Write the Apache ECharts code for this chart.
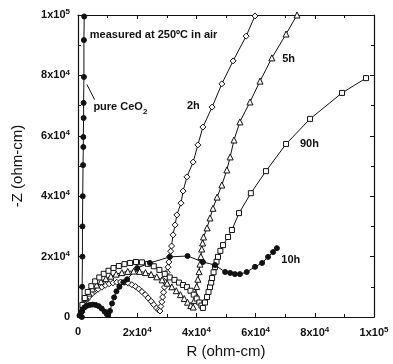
<!DOCTYPE html>
<html>
<head>
<meta charset="utf-8">
<script src="https://cdn.jsdelivr.net/npm/echarts@6/dist/echarts.min.js"></script>
<style>
  html, body { margin: 0; padding: 0; background: #fff; }
  #chart { width: 393px; height: 364px; }
</style>
</head>
<body>
<div id="chart"></div>
<script>
// R and -Z in units of 1e3 ohm-cm
const pureCeO2 = [
  [1.3, 0], [1.4, 10], [1.5, 20], [1.5, 30], [1.6, 40], [1.7, 50.3], [1.8, 56.3],
  [1.8, 59.6], [1.9, 65.9], [1.9, 70.9], [2.0, 79.5], [2.0, 91.7], [2.1, 99.5],
];
const h2 = [
  [1.2, 1.5], [1.6, 3], [2.2, 4.5], [3, 5.8], [3.8, 6.8], [4.7, 7.7], [5.7, 8.5],
  [6.8, 9.2], [8, 9.9], [9.2, 10.5], [10.5, 11], [11.8, 11.3], [13.1, 11.5],
  [14.4, 11.6], [15.7, 11.5], [17, 11.2], [18.2, 10.7], [19.4, 10.1], [20.5, 9.3],
  [21.6, 8.4], [22.7, 7.4], [23.7, 6.3], [24.7, 5.2], [25.6, 4.1], [26.5, 3],
  [27.2, 2.3], [27.7, 2], [28, 3.5], [28.3, 5], [28.6, 6.6], [28.9, 8.2],
  [29.2, 9.9], [29.5, 11.5], [29.8, 13.1], [30.1, 14.8], [30.4, 16.5], [30.7, 18.2],
  [31, 20], [31.3, 21.8], [31.6, 23.5], [32.1, 27.2], [32.8, 30.5], [33.4, 33.8],
  [34.8, 37.7], [35.5, 41.7], [36.8, 46.4], [38.9, 51.3], [40.5, 57], [42.2, 62.9],
  [45.3, 69.5], [48.6, 77.2], [52.4, 84.8], [56.8, 93], [59.8, 99.7],
];
const h5 = [
  [1.3, 2.5], [1.9, 4.5], [2.7, 6.3], [3.7, 7.9], [4.9, 9.3], [6.3, 10.6],
  [7.8, 11.7], [9.4, 12.7], [11.1, 13.5], [12.9, 14.2], [14.8, 14.7], [16.8, 15.1],
  [18.8, 15.2], [20.8, 15.1], [22.8, 14.7], [24.7, 14.1], [26.6, 13.3],
  [28.4, 12.3], [30.1, 11.2], [31.7, 10], [33.2, 8.7], [34.6, 7.4], [35.9, 6.1],
  [37, 4.9], [38.1, 3.8], [38.9, 3.3], [39.3, 5.5], [39.7, 7.8], [40.1, 10.1],
  [40.5, 12.5], [40.9, 15], [41.2, 17.5], [41.5, 20], [41.8, 22.5], [42.1, 24.5],
  [42.4, 26.5], [43.6, 29.5], [44.6, 32.8], [45.6, 36], [47, 39.7], [48.6, 43.7],
  [50.3, 48.7], [51.4, 53], [52.7, 58.6], [54.7, 64.6], [58.1, 71.2], [61.5, 78.1],
  [65.5, 85.8], [70.3, 93.7], [74, 100],
];
const h90 = [
  [1.5, 4], [2.3, 6.3], [3.3, 8.3], [4.5, 10.2], [5.8, 11.8], [7.2, 13.1],
  [8.7, 14.3], [10.3, 15.3], [12, 16.2], [13.8, 16.9], [15.7, 17.5], [17.6, 17.9],
  [19.6, 18.2], [21.6, 18.1], [23.6, 17.6], [25.6, 16.8], [27.5, 15.6],
  [29.3, 14.3], [31, 13.1], [32.6, 12.3], [34.1, 11.4], [35.5, 10.6], [36.8, 9.9],
  [38, 8.7], [39.1, 7.4], [40.1, 6.1], [41, 4.8], [41.7, 3.8], [42.2, 3],
  [42.9, 4.8], [43.6, 6.6], [44.1, 8.3], [44.6, 9.9], [45, 11.4], [45.3, 12.9],
  [45.8, 14.8], [46.3, 16.6], [46.8, 18.3], [47.3, 19.9], [48.1, 21.9], [49, 23.8],
  [50.7, 26.5], [52, 28.8], [54.4, 34.4], [58.4, 41], [63.5, 48.3], [70.3, 57.3],
  [78.4, 65.6], [89.2, 74.2], [97.3, 79.1],
];
const h10 = [
  [0.5, 0.5], [1, 1.5], [1.5, 2.5], [2.2, 3.2], [3, 3.7], [4, 4], [5, 4.1], [6, 4],
  [7, 3.6], [8, 2.8], [9, 1.8], [9.7, 1], [10.2, 0.6], [10.8, 2], [11.5, 4.5],
  [12.2, 6.5], [13, 8.5], [14, 10], [15.3, 11.5], [16.6, 12.5], [20, 16.2],
  [24.3, 17.9], [31, 19.9], [37, 20.2], [42.2, 18.2], [46.3, 17.2], [49.7, 14.9],
  [51.4, 14.6], [53, 14.2], [54.7, 14.2], [57, 14.9], [59.8, 16.6], [62.2, 17.9],
  [64.2, 19.9], [65.9, 21.5], [67.2, 22.8],
];
const xTickLabels = ["0", "2x10|4", "4x10|4", "6x10|4", "8x10|4", "1x10|5"];
const yTickLabels = ["0", "2x10|4", "4x10|4", "6x10|4", "8x10|4", "1x10|5"];
const notes = [
  { at: [4, 93.5], text: "measured at 250ºC in air" },
  { at: [5.2, 69.5], text: "{b|pure CeO}{sub|2}" },
  { at: [36.8, 69.8], text: "2h" },
  { at: [69, 85.3], text: "5h" },
  { at: [75, 57.3], text: "90h" },
  { at: [68.7, 19], text: "10h" },
];

const tickRich = {
  b: { fontSize: 11, fontWeight: "bold", color: "#111", fontFamily: "Liberation Sans" },
  s: { fontSize: 8, fontWeight: "bold", color: "#111", fontFamily: "Liberation Sans", padding: [0, 0, 6, 0] },
};
function tickText(labels) {
  return (value) => {
    const t = labels[Math.round(value / 20)];
    if (t === undefined) return "";
    const [base, exp] = t.split("|");
    return exp ? `{b|${base}}{s|${exp}}` : `{b|${base}}`;
  };
}

const frameAxis = {
  min: 0,
  max: 100,
  interval: 20,
  axisLine: { show: true, onZero: false, lineStyle: { color: "#111", width: 1.2 } },
  axisTick: { show: true, inside: true, length: 4, lineStyle: { color: "#111" } },
  minorTick: { show: true, splitNumber: 2, length: 3, lineStyle: { color: "#111" } },
  splitLine: { show: false },
};

function curve(name, data, symbol, filled, size) {
  return {
    name,
    type: "line",
    data,
    symbol,
    symbolSize: size,
    showAllSymbol: true,
    smooth: false,
    lineStyle: { color: "#111", width: 1 },
    itemStyle: { color: filled ? "#111" : "#fff", borderColor: "#111", borderWidth: 1 },
    emphasis: { disabled: true },
    z: 3,
  };
}

const chart = echarts.init(document.getElementById("chart"), undefined, { renderer: "canvas" });
chart.setOption({
  animation: false,
  backgroundColor: "#fff",
  textStyle: { fontFamily: "Liberation Sans" },
  grid: { left: 78, right: 19, top: 15, bottom: 47 },
  xAxis: [
    {
      ...frameAxis,
      type: "value",
      position: "bottom",
      name: "R (ohm-cm)",
      nameLocation: "middle",
      nameGap: 27,
      nameTextStyle: { fontSize: 15, color: "#111", fontFamily: "Liberation Sans" },
      axisLabel: { margin: 9, formatter: tickText(xTickLabels), rich: tickRich },
    },
    { ...frameAxis, type: "value", position: "top", axisLabel: { show: false } },
  ],
  yAxis: [
    {
      ...frameAxis,
      type: "value",
      position: "left",
      name: "-Z (ohm-cm)",
      nameLocation: "middle",
      nameGap: 53,
      nameTextStyle: { fontSize: 15, color: "#111", fontFamily: "Liberation Sans" },
      axisLabel: { margin: 8, formatter: tickText(yTickLabels), rich: tickRich },
    },
    { ...frameAxis, type: "value", position: "right", axisLabel: { show: false } },
  ],
  series: [
    {
      ...curve("pure CeO2", pureCeO2, "circle", true, 5),
      markLine: {
        silent: true,
        symbol: ["none", "none"],
        label: { show: false },
        lineStyle: { color: "#111", width: 1, type: "solid" },
        data: [[{ coord: [3, 77] }, { coord: [5.6, 72] }]],
      },
    },
    curve("2h", h2, "diamond", false, 6),
    curve("5h", h5, "triangle", false, 6),
    curve("90h", h90, "rect", false, 5),
    curve("10h", h10, "circle", true, 5),
  ],
});

chart.setOption({
  graphic: notes.map((n) => {
    const [px, py] = chart.convertToPixel({ gridIndex: 0 }, n.at);
    return {
      type: "text",
      x: px,
      y: py,
      silent: true,
      style: {
        text: n.text,
        fill: "#111",
        font: "bold 11px 'Liberation Sans'",
        verticalAlign: "middle",
        rich: {
          b: { fontSize: 11, fontWeight: "bold", fontFamily: "Liberation Sans", fill: "#111" },
          sub: { fontSize: 8, fontWeight: "bold", fontFamily: "Liberation Sans", fill: "#111", padding: [10, 0, 0, 0] },
        },
      },
    };
  }),
});
</script>
</body>
</html>
